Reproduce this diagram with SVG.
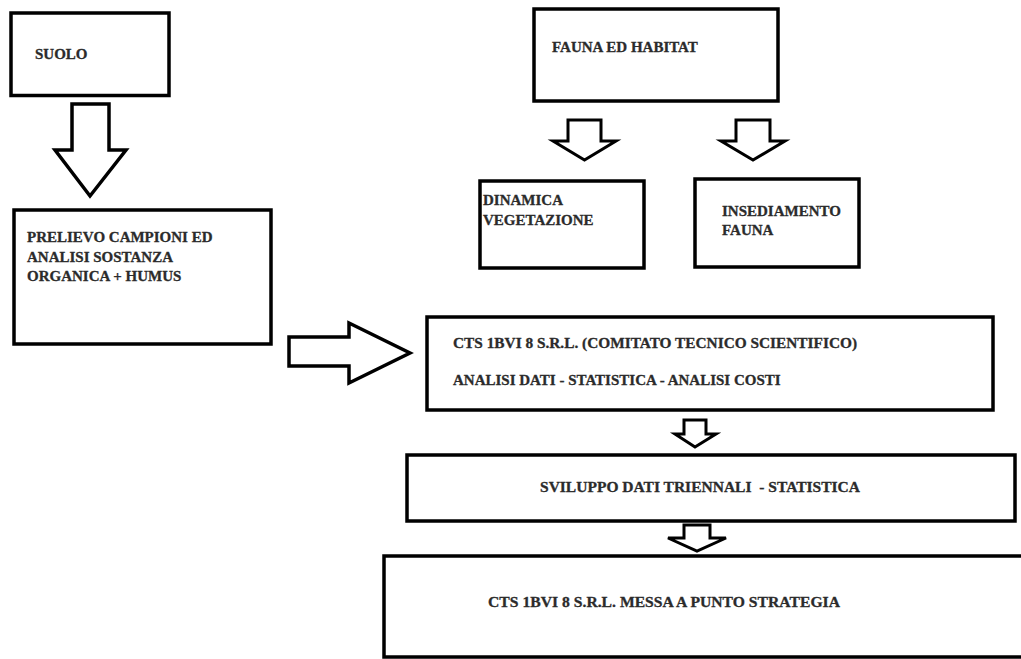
<svg xmlns="http://www.w3.org/2000/svg" width="1021" height="659" viewBox="0 0 1021 659">
<style>
.box{fill:#fff;stroke:#000;stroke-width:3.5}
.arr{fill:#fff;stroke:#000;stroke-width:3.5;stroke-linejoin:miter}
.arr.s{stroke-width:3}
.t{font-family:"Liberation Serif","Times New Roman",serif;font-weight:bold;font-size:15px;fill:#2b2b2b;stroke:#2b2b2b;stroke-width:0.3}
</style>
<rect width="1021" height="659" fill="#fff"/>
<g id="connectors">
<polygon class="arr" points="72,104 109,104 109,150 126,150 90,196 55,150 72,150"/>
<polygon class="arr s" points="568,120 601,120 601,141 616,141 584.5,160 553,141 568,141"/>
<polygon class="arr s" points="736,120 770,120 770,141 785,141 753,160 721,141 736,141"/>
<polygon class="arr" points="289,337 349,337 349,323 410,353 349,383 349,366 289,366"/>
<polygon class="arr s" points="684,420 706,420 706,434 716,434 695,447 675,434 684,434"/>
<polygon class="arr s" points="684,525 710,525 710,538 726,538 697,551 668,538 684,538"/>
</g>
<g id="suolo">
<rect class="box" x="11" y="13" width="158" height="82.5"/>
<text class="t" x="35" y="59">SUOLO</text>
</g>
<g id="prelievo">
<rect class="box" x="14" y="210" width="257" height="134"/>
<text class="t" x="27" y="242">PRELIEVO CAMPIONI ED</text>
<text class="t" x="27" y="262">ANALISI SOSTANZA</text>
<text class="t" x="27" y="281">ORGANICA + HUMUS</text>
</g>
<g id="fauna-habitat">
<rect class="box" x="534" y="9" width="244" height="92"/>
<text class="t" x="552" y="52">FAUNA ED HABITAT</text>
</g>
<g id="dinamica">
<rect class="box" x="480" y="181" width="164" height="87"/>
<text class="t" x="483" y="205">DINAMICA</text>
<text class="t" x="483" y="225">VEGETAZIONE</text>
</g>
<g id="insediamento">
<rect class="box" x="695" y="179" width="164" height="88"/>
<text class="t" x="722" y="216">INSEDIAMENTO</text>
<text class="t" x="722" y="235">FAUNA</text>
</g>
<g id="cts">
<rect class="box" x="427" y="317" width="566" height="93"/>
<text class="t" x="453" y="348" textLength="404" lengthAdjust="spacingAndGlyphs">CTS 1BVI 8 S.R.L. (COMITATO TECNICO SCIENTIFICO)</text>
<text class="t" x="453" y="385">ANALISI DATI - STATISTICA - ANALISI COSTI</text>
</g>
<g id="sviluppo">
<rect class="box" x="407" y="455" width="608" height="66"/>
<text class="t" x="540" y="492" xml:space="preserve" textLength="320" lengthAdjust="spacingAndGlyphs">SVILUPPO DATI TRIENNALI  - STATISTICA</text>
</g>
<g id="strategia">
<rect class="box" x="384" y="556" width="700" height="101"/>
<text class="t" x="488" y="607" textLength="352" lengthAdjust="spacingAndGlyphs">CTS 1BVI 8 S.R.L. MESSA A PUNTO STRATEGIA</text>
</g>
</svg>
